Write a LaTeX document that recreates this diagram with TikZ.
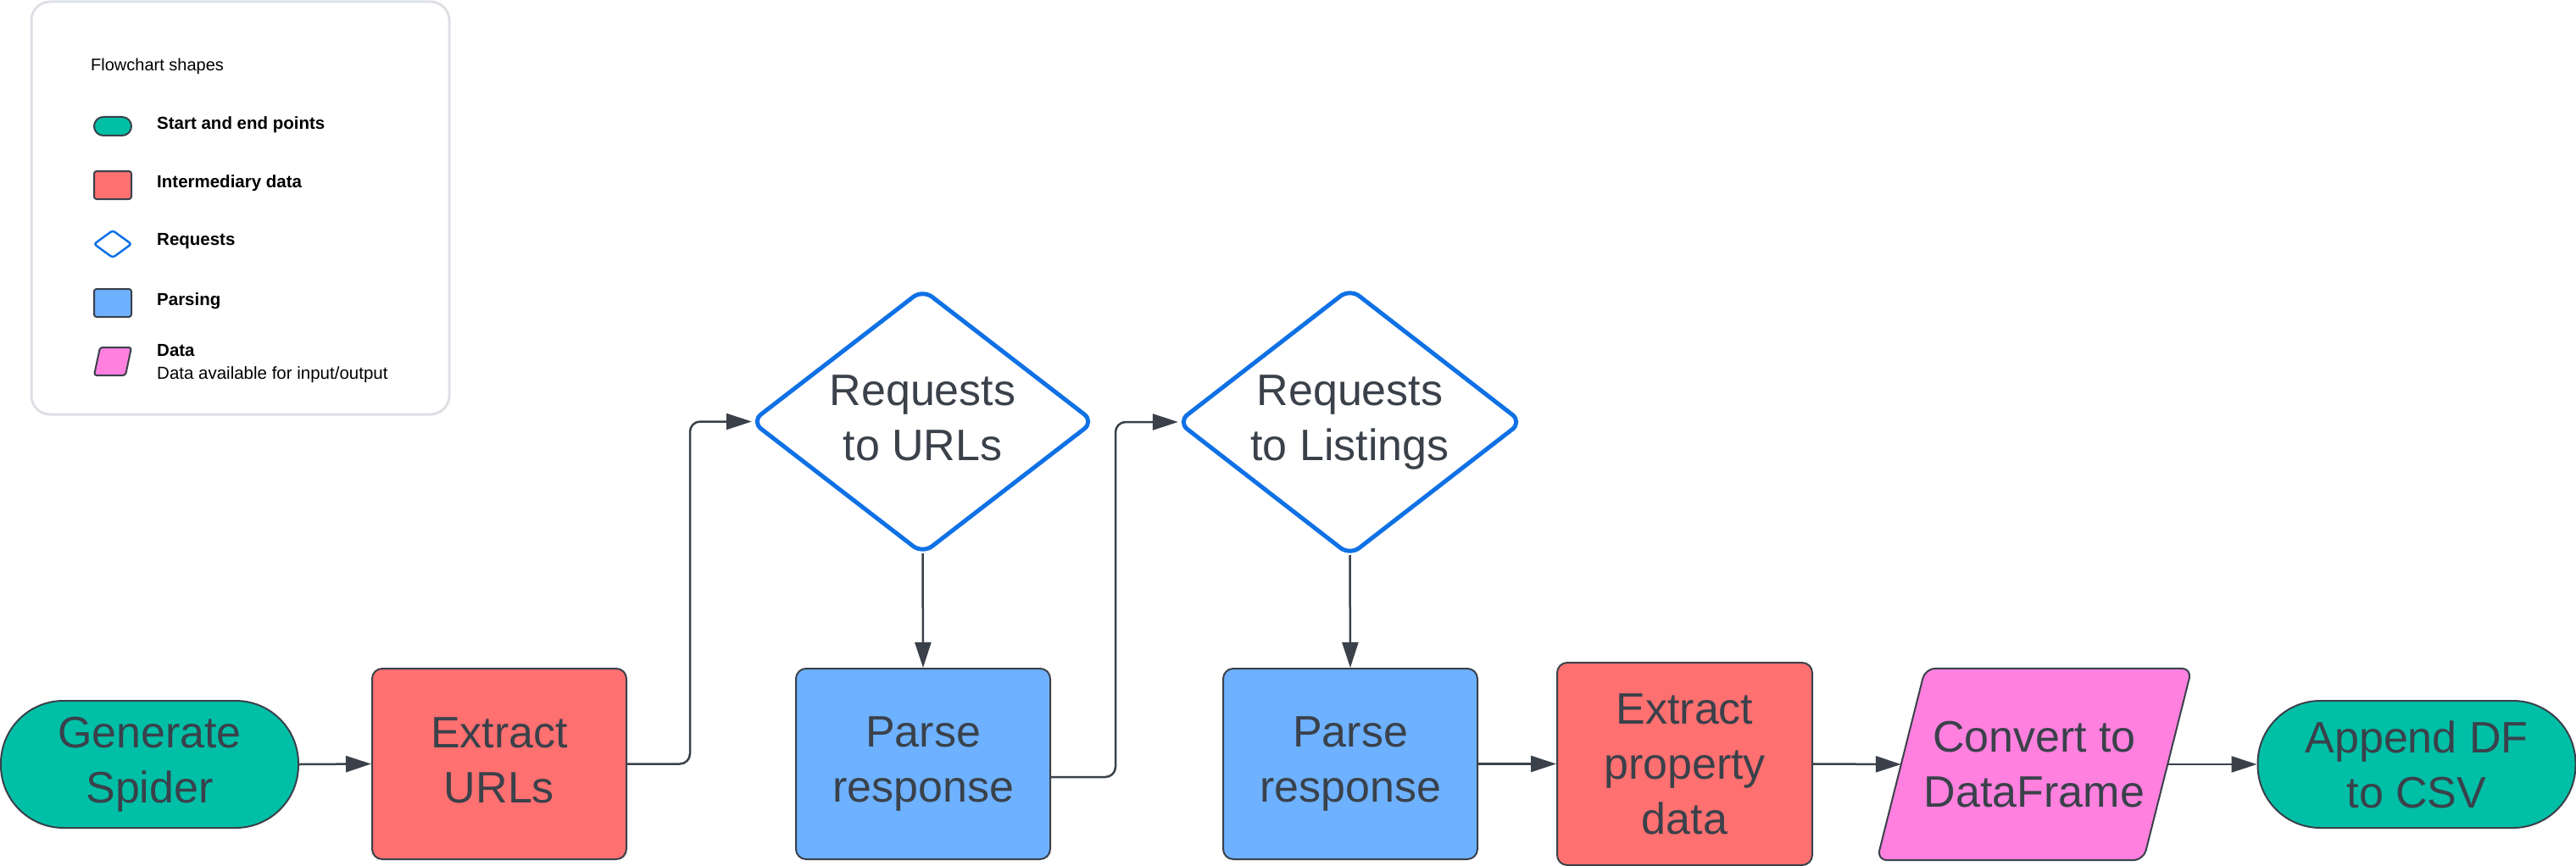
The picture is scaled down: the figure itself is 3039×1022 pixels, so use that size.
\documentclass[tikz,border=0pt]{standalone}
\usepackage{fontspec}
\setmainfont{Liberation Sans}
\usetikzlibrary{arrows.meta,calc,backgrounds}
\definecolor{ink}{HTML}{3A414A}
\definecolor{termc}{HTML}{00BFA7}
\definecolor{redc}{HTML}{FF7070}
\definecolor{bluec}{HTML}{6DB1FF}
\definecolor{pinkc}{HTML}{FF80DF}
\definecolor{diac}{HTML}{1071E5}
\definecolor{legb}{HTML}{DDE1E6}
\newcommand{\liftlines}[2]{\raisebox{#1}{\begin{tabular}{@{}c@{}}#2\end{tabular}}}
\begin{document}
\begin{tikzpicture}[x=1pt,y=-1pt,
  box/.style={draw=ink, line width=2pt, rounded corners=12pt, inner sep=0pt,
    align=center, text=ink, font=\fontsize{52}{65}\selectfont},
  termbox/.style={box, fill=termc, rounded corners=74pt, minimum width=#1, minimum height=150pt},
  redbox/.style={box, fill=redc},
  bluebox/.style={box, fill=bluec, minimum width=300pt, minimum height=225pt},
  hold/.style={inner sep=0pt, align=center, text=ink, font=\fontsize{52}{65}\selectfont},
  diaedge/.style={draw=diac, line width=5pt, rounded corners=14pt},
  conn/.style={draw=ink, line width=2.5pt, -{Triangle[length=30pt,width=19pt]}, rounded corners=12pt},
  legtext/.style={anchor=west, inner sep=0pt, font=\fontsize{20.5}{24}\selectfont\bfseries, text=black},
  icon/.style={draw=ink, line width=2pt, rounded corners=3pt}
]
\useasboundingbox (0,0) rectangle (3039,1022);

% legend
\draw[draw=legb, line width=3pt, fill=white, rounded corners=22pt] (37,2) rectangle (530,489);
\node[legtext, font=\fontsize{20}{24}\selectfont] (lgtitle) at (107,78) {Flowchart shapes};
\draw[icon, fill=termc, rounded corners=11pt] (111,138) rectangle (155,160);
\node[legtext] (lg1) at (185,147) {Start and end points};
\draw[icon, fill=redc] (111,202) rectangle (155,235);
\node[legtext] (lg2) at (185,216) {Intermediary data};
\draw[draw=diac, line width=2.5pt, rounded corners=3pt] (133,272) -- (155,288) -- (133,304) -- (111,288) -- cycle;
\node[legtext] (lg3) at (185,285) {Requests};
\draw[icon, fill=bluec] (111,341) rectangle (155,374);
\node[legtext] (lg4) at (185,355) {Parsing};
\draw[icon, fill=pinkc] (118,410) -- (155,410) -- (148,443) -- (111,443) -- cycle;
\node[legtext] (lg5) at (185,414) {Data};
\node[legtext, font=\fontsize{20.5}{24}\selectfont] (lg6) at (185,442) {Data available for input/output};

% main nodes
\node[termbox=351pt] (gen) at (176.5,902) {Generate\\Spider};
\node[redbox, minimum width=300pt, minimum height=225pt] (exu) at (589,901.5) {\liftlines{7pt}{Extract\\URLs}};
\node[hold, minimum width=403pt, minimum height=311pt] (d1) at (1088.5,497.5) {\liftlines{6pt}{Requests\\to URLs}};
\node[bluebox] (p1) at (1089,901.5) {Parse\\response};
\node[hold, minimum width=405pt, minimum height=314pt] (d2) at (1592.5,498) {\liftlines{14pt}{Requests\\to Listings}};
\node[bluebox] (p2) at (1593,901.5) {Parse\\response};
\node[redbox, minimum width=301pt, minimum height=239pt] (epd) at (1987.5,901.5) {Extract\\property\\data};
\node[hold, minimum width=314pt, minimum height=226pt] (cv) at (2400,902) {Convert to\\DataFrame};
\node[termbox=375pt] (app) at (2851,902) {Append DF\\to CSV};

\begin{scope}[on background layer]
\draw[draw=ink, line width=2pt, fill=pinkc, rounded corners=12pt]
  ($(cv.north west)+(28.5,0)$) -- ($(cv.north east)+(28.5,0)$) --
  ($(cv.south east)-(28.5,0)$) -- ($(cv.south west)-(28.5,0)$) -- cycle;
\end{scope}
\draw[diaedge] (d1.north) -- (d1.east) -- (d1.south) -- (d1.west) -- cycle;
\draw[diaedge] (d2.north) -- (d2.east) -- (d2.south) -- (d2.west) -- cycle;

% connectors
\draw[conn] (gen.east) -- (exu.west);
\draw[conn] (exu.east) -- ++(74,0) |- (d1.west);
\draw[conn] (d1.south) -- (p1.north);
\draw[conn] ($(p1.east)+(0,15.5)$) -- ++(76,0) |- (d2.west);
\draw[conn] (d2.south) -- (p2.north);
\draw[conn] (p2.east) -- (epd.west);
\draw[conn] (epd.east) -- (cv.west);
\draw[conn] (cv.east) -- (app.west);
\end{tikzpicture}
\end{document}
